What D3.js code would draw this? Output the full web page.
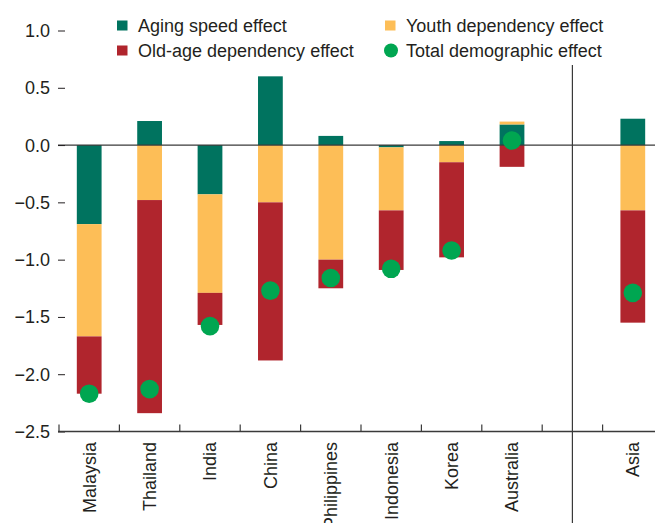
<!DOCTYPE html>
<html>
<head>
<meta charset="utf-8">
<script src="https://cdn.jsdelivr.net/npm/d3@7"></script>
<style>
  body { margin: 0; background: #fff; }
  svg text { font-family: "Liberation Sans", Arial, sans-serif; fill: #231f20; }
</style>
</head>
<body>
<svg id="viz" width="655" height="523"></svg>
<script>
// Data
const countries = ['Malaysia', 'Thailand', 'India', 'China', 'Philippines', 'Indonesia', 'Korea', 'Australia', 'Asia'];
const agingSpeed = [-0.69, 0.21, -0.43, 0.60, 0.08, -0.02, 0.035, 0.18, 0.23];
const youthDep   = [-0.98, -0.48, -0.86, -0.50, -1.00, -0.55, -0.15, 0.025, -0.57];
const oldAgeDep  = [-0.50, -1.86, -0.28, -1.38, -0.25, -0.52, -0.83, -0.19, -0.98];
const totalEffect = [-2.17, -2.13, -1.58, -1.27, -1.16, -1.08, -0.92, 0.04, -1.29];
const yTicks = [1.0, 0.5, 0.0, -0.5, -1.0, -1.5, -2.0, -2.5];

const keys   = ['aging', 'youth', 'oldage'];
const colors = { aging: '#00735f', youth: '#fdbe57', oldage: '#b0252d', total: '#00a651' };

const rows = countries.map((c, i) => ({
  country: c, aging: agingSpeed[i], youth: youthDep[i], oldage: oldAgeDep[i], total: totalEffect[i]
}));

// Asia is split off from the countries by an empty slot
const xDomain = [...countries.slice(0, 8), 'gap', 'Asia'];

const svg = d3.select('#viz');
const margin = { left: 59, right: 663, top: 30.5, bottom: 431.5 };

const x = d3.scaleBand().domain(xDomain).range([margin.left, margin.right]);
const y = d3.scaleLinear().domain([-2.5, 1.0]).range([margin.bottom, margin.top]);
const barW = x.bandwidth() * 0.41;

const series = d3.stack().keys(keys).offset(d3.stackOffsetDiverging)(rows);

// Bars
svg.append('g')
  .selectAll('g')
  .data(series)
  .join('g')
    .attr('fill', d => colors[d.key])
  .selectAll('rect')
  .data(d => d)
  .join('rect')
    .attr('x', d => x(d.data.country) + (x.bandwidth() - barW) / 2)
    .attr('y', d => y(d[1]))
    .attr('width', barW)
    .attr('height', d => y(d[0]) - y(d[1]));

// Zero line
svg.append('line')
  .attr('x1', margin.left - 1).attr('x2', 655)
  .attr('y1', y(0)).attr('y2', y(0))
  .attr('stroke', '#3a3a3a').attr('stroke-width', 1.3);

// Left axis: labels and short inward ticks, no domain line
const yAxis = svg.append('g')
  .attr('transform', `translate(${margin.left - 1},0)`)
  .call(d3.axisRight(y).tickValues(yTicks).tickSize(7).tickFormat(''));
yAxis.select('.domain').remove();
yAxis.selectAll('line').attr('stroke', '#231f20');
svg.append('g')
  .selectAll('text')
  .data(yTicks)
  .join('text')
    .attr('x', 50)
    .attr('y', d => y(d))
    .attr('dy', '0.36em')
    .attr('text-anchor', 'end')
    .style('font-size', '18px')
    .text(d => d3.format('.1f')(d).replace('-', '\u2212'));

// Right axis ticks (cut by the window edge)
const yAxisR = svg.append('g')
  .attr('transform', `translate(${margin.right},0)`)
  .call(d3.axisLeft(y).tickValues(yTicks).tickSize(8).tickFormat(''));
yAxisR.select('.domain').remove();
yAxisR.selectAll('line').attr('stroke', '#aaa');

// Bottom axis: ticks at band edges, pointing up
const edges = xDomain.map(d => x(d)).concat([margin.right]);
svg.append('line')
  .attr('x1', margin.left - 1).attr('x2', 655)
  .attr('y1', margin.bottom).attr('y2', margin.bottom)
  .attr('stroke', '#3a3a3a').attr('stroke-width', 1.3);
svg.append('g')
  .selectAll('line')
  .data(edges)
  .join('line')
    .attr('x1', d => d).attr('x2', d => d)
    .attr('y1', margin.bottom).attr('y2', margin.bottom - 7)
    .attr('stroke', '#3a3a3a').attr('stroke-width', 1.2);

// Separator between countries and Asia
const sepX = x('gap') + x.bandwidth() / 2;
svg.append('line')
  .attr('x1', sepX).attr('x2', sepX)
  .attr('y1', 65).attr('y2', 523)
  .attr('stroke', '#3a3a3a').attr('stroke-width', 1.2);

// Category labels, rotated
svg.append('g')
  .selectAll('text')
  .data(countries)
  .join('text')
    .attr('transform', d => `translate(${x(d) + x.bandwidth() / 2},442) rotate(-90)`)
    .attr('dy', '0.36em')
    .attr('text-anchor', 'end')
    .style('font-size', '18px')
    .text(d => d);

// Total demographic effect dots
svg.append('g')
  .selectAll('circle')
  .data(rows)
  .join('circle')
    .attr('cx', d => x(d.country) + x.bandwidth() / 2)
    .attr('cy', d => y(d.total))
    .attr('r', 9.3)
    .attr('fill', colors.total);

// Legend
const legendItems = [
  { key: 'aging',  label: 'Aging speed effect',        col: 0, row: 0, shape: 'rect' },
  { key: 'oldage', label: 'Old-age dependency effect', col: 0, row: 1, shape: 'rect' },
  { key: 'youth',  label: 'Youth dependency effect',   col: 1, row: 0, shape: 'rect' },
  { key: 'total',  label: 'Total demographic effect',  col: 1, row: 1, shape: 'circle' }
];
const colX = [117, 385], rowY = [25.5, 50.5];
const legend = svg.append('g')
  .selectAll('g')
  .data(legendItems)
  .join('g')
    .attr('transform', d => `translate(${colX[d.col]},${rowY[d.row]})`);
legend.filter(d => d.shape === 'rect').append('rect')
  .attr('x', 0).attr('y', -5).attr('width', 10.5).attr('height', 10)
  .attr('fill', d => colors[d.key]);
legend.filter(d => d.shape === 'circle').append('circle')
  .attr('cx', 6).attr('cy', 0).attr('r', 7)
  .attr('fill', d => colors[d.key]);
legend.append('text')
  .attr('x', 21)
  .attr('dy', '0.36em')
  .style('font-size', '18px')
  .text(d => d.label);
</script>
</body>
</html>
